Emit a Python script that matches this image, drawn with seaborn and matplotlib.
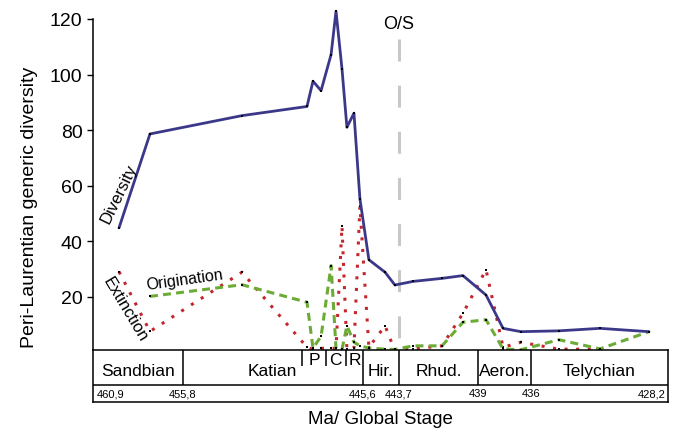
import matplotlib
matplotlib.use('Agg')
import matplotlib.pyplot as plt
import seaborn as sns
import pandas as pd

# time bins (Ma) of the diversity curve
bin_age = [459.42, 457.66, 452.43, 448.73, 448.39, 447.93, 447.36, 447.08,
           446.74, 446.46, 446.06, 445.72, 445.21, 444.29, 443.73, 442.70,
           441.05, 439.86, 438.55, 437.58, 436.56, 434.40, 432.07, 429.28]
diversity = [44.8, 78.6, 85.2, 88.5, 97.6, 94.2, 107.2, 122.8, 102.0, 81.0,
             86.1, 55.2, 33.3, 28.8, 24.2, 25.5, 26.6, 27.6, 20.6, 8.6,
             7.4, 7.7, 8.6, 7.4]
# origination has no value in the first bin, extinction none in the last
origination = [20.1, 24.3, 18.0, 1.5, 5.7, 31.2, 1.4, 1.0, 9.5, 3.6, 2.3,
               1.5, 1.1, 1.0, 2.3, 2.3, 10.8, 11.7, 1.2, 0.9, 4.5, 1.2, 7.4]
extinction = [29.0, 7.5, 28.8, 1.8, 1.0, 1.4, 1.4, 1.4, 45.4, 1.0, 1.5,
              52.6, 1.8, 9.5, 0.5, 1.2, 2.3, 14.0, 29.7, 1.8, 3.6, 1.1, 1.1]

stage_names = ['Sandbian', 'Katian', 'Hir.', 'Rhud.', 'Aeron.', 'Telychian']
stage_bounds = [460.9, 455.8, 445.55, 443.5, 439.0, 436.0, 428.2]
age_labels = ['460,9', '455,8', '445,6', '443,7', '439', '436', '428,2']
substage_names = ['P', 'C', 'R']
substage_bounds = [449.0, 447.67, 446.51, 445.55]
os_boundary = 443.5

c_div = '#3b3889'
c_ori = '#6cab36'
c_ext = '#c4262e'

sns.set_style('ticks')
plt.rcParams['font.family'] = ['Liberation Sans', 'DejaVu Sans']
plt.rcParams['text.color'] = 'black'
plt.rcParams['axes.labelcolor'] = 'black'
plt.rcParams['ytick.color'] = 'black'
plt.rcParams['xtick.color'] = 'black'

W, H = 677, 431
fig = plt.figure(figsize=(W / 100, H / 100), dpi=100)
ax = fig.add_axes([93 / W, 1 - 351 / H, 575 / W, 331 / H])

df_div = pd.DataFrame({'age': bin_age, 'n': diversity})
df_ori = pd.DataFrame({'age': bin_age[1:], 'n': origination})
df_ext = pd.DataFrame({'age': bin_age[:-1], 'n': extinction})

mk = dict(marker='s', ms=1.5, mfc='black', mec='black', mew=0, clip_on=False)
sns.lineplot(data=df_ext, x='age', y='n', ax=ax, sort=False, color=c_ext,
             lw=2.2, linestyle=(0, (1, 2.8)), **mk)
sns.lineplot(data=df_ori, x='age', y='n', ax=ax, sort=False, color=c_ori,
             lw=2.2, linestyle=(0, (2.6, 1.7)), **mk)
sns.lineplot(data=df_div, x='age', y='n', ax=ax, sort=False, color=c_div,
             lw=2.0, **mk)

# Ordovician/Silurian boundary
ax.plot([os_boundary, os_boundary], [112.8, 4.8], color='#c8c8c8', lw=2.2,
        linestyle=(0, (7.2, 7.9)), zorder=0)
ax.text(os_boundary, 118.3, 'O/S', ha='center', va='center', fontsize=13)

ax.text(459.45, 57.5, 'Diversity', rotation=64, ha='center', va='center', fontsize=12)
ax.text(455.67, 26.4, 'Origination', rotation=8, ha='center', va='center', fontsize=11.5)
ax.text(459.08, 15.6, 'Extinction', rotation=-59, ha='center', va='center', fontsize=12)

ax.set_xlim(stage_bounds[0], stage_bounds[-1])
ax.set_ylim(0.8, 120)
ax.set_xticks([])
ax.set_yticks([20, 40, 60, 80, 100, 120])
ax.tick_params(axis='y', length=4.5, width=1, labelsize=14, pad=3, color='black')
for s in ['top', 'right', 'bottom']:
    ax.spines[s].set_visible(False)
ax.spines['left'].set_color('black')
ax.spines['left'].set_linewidth(1.1)
ax.set_xlabel('')
ax.set_ylabel('Peri-Laurentian generic diversity', fontsize=14)
ax.yaxis.set_label_coords(-0.095, 0.434)

# stage box below the plot
ax2 = fig.add_axes([93 / W, 1 - 403 / H, 575 / W, 52 / H])
ax2.set_xlim(stage_bounds[0], stage_bounds[-1])
ax2.set_ylim(0, 1)
ax2.set_xticks([])
ax2.set_yticks([])
for s in ax2.spines.values():
    s.set_visible(True)
    s.set_color('black')
    s.set_linewidth(1.1)
ax2.axhline(1 / 3, color='black', lw=1.1)
ax2.vlines(stage_bounds[1:-1], 1 / 3, 1, color='black', lw=1.1)
ax2.vlines(substage_bounds[:-1], 0.69, 1, color='black', lw=1.1)

for i, name in enumerate(stage_names):
    lo, hi = stage_bounds[i], stage_bounds[i + 1]
    if name == 'Katian':
        ax2.text(substage_bounds[0] + 0.28, 0.615, name, ha='right', va='center', fontsize=12.5)
    else:
        ax2.text((lo + hi) / 2, 0.615, name, ha='center', va='center', fontsize=12.5)
for i, name in enumerate(substage_names):
    ax2.text((substage_bounds[i] + substage_bounds[i + 1]) / 2, 0.81, name,
             ha='center', va='center', fontsize=12.5)
for i, (b, lab) in enumerate(zip(stage_bounds, age_labels)):
    if i == 0:
        ax2.text(b - 0.2, 0.17, lab, ha='left', va='center', fontsize=8)
    elif i == len(stage_bounds) - 1:
        ax2.text(b + 0.15, 0.17, lab, ha='right', va='center', fontsize=8)
    else:
        ax2.text(b, 0.17, lab, ha='center', va='center', fontsize=8)

fig.text(380 / W, 1 - 420 / H, 'Ma/ Global Stage', ha='center', va='center', fontsize=13.5)

fig.savefig('out.png', dpi=100)
